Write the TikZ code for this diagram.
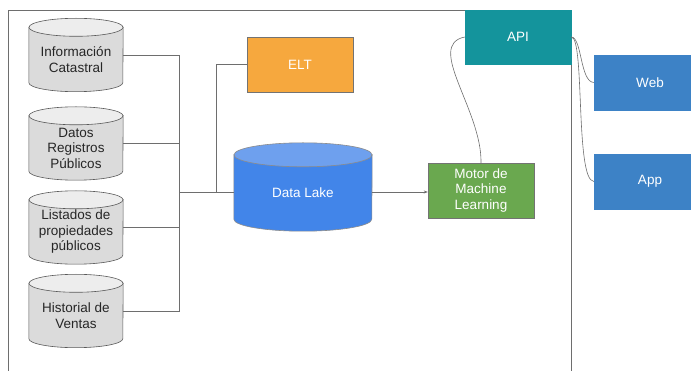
\documentclass[tikz,border=0pt]{standalone}
\usepackage{fontspec}
\setmainfont{Liberation Sans}
\usetikzlibrary{arrows.meta,backgrounds}
\definecolor{linegray}{RGB}{110,110,110}
\definecolor{eltorange}{RGB}{246,168,62}
\definecolor{lakeblue}{RGB}{66,133,233}
\definecolor{laketop}{RGB}{110,160,238}
\definecolor{mlgreen}{RGB}{106,168,79}
\definecolor{apiteal}{RGB}{20,148,156}
\definecolor{appblue}{RGB}{61,130,198}
\tikzset{
  txt/.style={font=\fontsize{13.5}{15.5}\selectfont, align=center},
  db/.style={txt, rectangle, minimum width=94, minimum height=64, inner sep=0, text=black!85},
  box/.style={txt, rectangle, draw=black!55, text=white, inner sep=0},
  wire/.style={draw=linegray, line width=0.6pt},
}
% #1 node, #2 half width, #3 ellipse radius, #4 body, #5 top, #6 border
\newcommand\drum[6]{%
  \begin{pgfonlayer}{background}
  \path[fill=#4, draw=#6, line width=0.6pt] (#1.north west) -- ([yshift=#3]#1.south west)
    arc[start angle=180, end angle=360, x radius=#2, y radius=#3] -- (#1.north east) -- cycle;
  \path[fill=#5, draw=#6, line width=0.6pt] (#1.north) ellipse [x radius=#2, y radius=#3];
  \end{pgfonlayer}}
\begin{document}
\begin{tikzpicture}[x=1pt,y=-1pt]
\useasboundingbox (0,0) rectangle (691,371);
% outer frame
\draw[wire] (8,371) -- (8,10) -- (571,10) -- (571,371);
% data sources
\node[db] (cat) at (76,59.5) {Información\\Catastral};
\node[db] (reg) at (76,148) {Datos\\Registros\\Públicos};
\node[db] (lst) at (76,232) {Listados de\\propiedades\\públicos};
\node[db] (ven) at (76,315.5) {Historial de\\Ventas};
\foreach \n in {cat,reg,lst,ven}
  \drum{\n}{47pt}{9pt}{black!14}{black!7}{black!65};
% central part
\node[txt, minimum width=138, minimum height=76, inner sep=0, text=white] (lake) at (303,193) {Data Lake};
\drum{lake}{69pt}{12pt}{lakeblue}{laketop}{black!45}
\node[box, fill=eltorange, minimum width=106, minimum height=55] (elt) at (300,64.5) {ELT};
\node[box, fill=mlgreen, minimum width=106, minimum height=55] (ml) at (481,190.5) {Motor de\\Machine\\Learning};
\node[box, fill=apiteal, draw=apiteal, minimum width=106, minimum height=54] (api) at (518,37) {API};
\node[box, fill=appblue, draw=appblue, minimum width=112, minimum height=55] (web) at (650,82.5) {Web};
\node[box, fill=appblue, draw=appblue, minimum width=112, minimum height=55] (app) at (650,181.5) {App};
% bus
\coordinate (bus) at (179,192);
\coordinate (eltj) at (216,192);
\draw[wire] ([yshift=4.5pt]cat.east) -- ([yshift=4.5pt]cat.east -| bus) -- ([yshift=4.5pt]ven.east -| bus) -- ([yshift=4.5pt]ven.east);
\draw[wire] ([yshift=4.5pt]reg.east) -- ([yshift=4.5pt]reg.east -| bus);
\draw[wire] ([yshift=4.5pt]lst.east) -- ([yshift=4.5pt]lst.east -| bus);
\draw[wire] (bus) -- (bus -| lake.west);
\draw[wire] (eltj) |- (elt.west);
\draw[wire, -{Stealth[length=4pt,width=3pt]}] (bus -| lake.east) -- (bus -| ml.west);
% curves
\draw[wire] (ml.north) .. controls (482,110) and (425,45) .. (api.west);
\draw[wire] (api.east) .. controls (582,37) and (580,82) .. (web.west);
\draw[wire] (api.east) .. controls (585,37) and (575,180) .. (app.west);
\end{tikzpicture}
\end{document}
